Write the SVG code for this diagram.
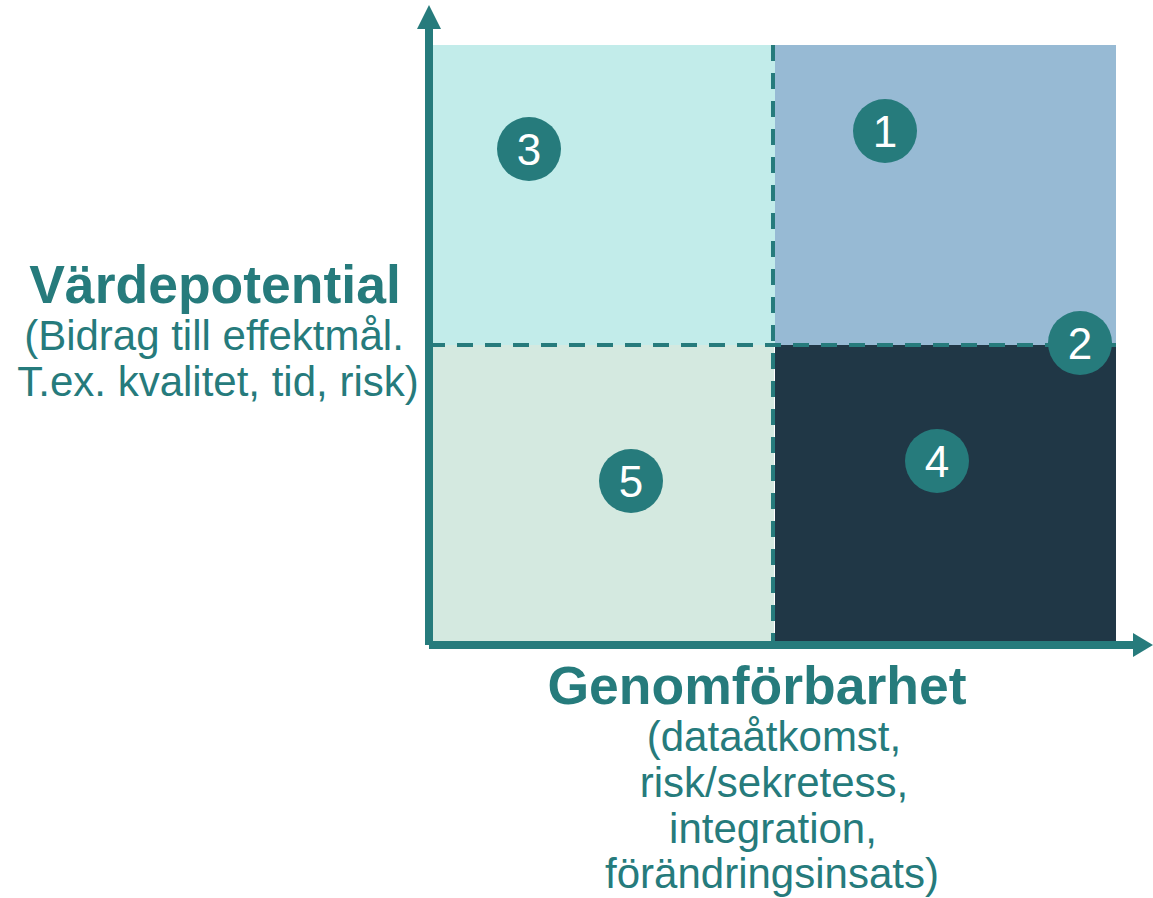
<svg xmlns="http://www.w3.org/2000/svg" width="1153" height="898" viewBox="0 0 1153 898">
<style>
.teal{fill:#267B7C}
.title{font-family:"Liberation Sans",Arial,sans-serif;font-weight:bold;font-size:53.5px;fill:#267B7C;text-anchor:middle}
.sub{font-family:"Liberation Sans",Arial,sans-serif;font-size:42px;fill:#267B7C;text-anchor:middle}
.num{font-family:"Liberation Sans",Arial,sans-serif;font-size:44px;fill:#FFFFFF;text-anchor:middle}
.dash{stroke:#267B7C;stroke-width:4;stroke-dasharray:16 12;fill:none}
</style>
<rect width="1153" height="898" fill="#FFFFFF"/>
<g id="quadrants">
<rect id="q-upper-left" x="433" y="45" width="342" height="300" fill="#C2ECEA"/>
<rect id="q-upper-right" x="775" y="45" width="341" height="300" fill="#97BAD4"/>
<rect id="q-lower-left" x="433" y="345" width="341" height="296" fill="#D4E9E0"/>
<rect id="q-lower-right" x="775" y="345" width="341" height="296" fill="#203746"/>
</g>
<g id="connectors">
<line class="dash" x1="773" y1="45" x2="773" y2="641"/>
<line class="dash" x1="429" y1="345" x2="1116" y2="345"/>
<rect class="teal" x="425" y="29" width="8" height="616"/>
<polygon class="teal" points="417,29 441,29 429,5"/>
<rect class="teal" x="429" y="641" width="704" height="8"/>
<polygon class="teal" points="1133,633 1133,657 1153,645"/>
</g>
<g id="node-3"><circle class="teal" cx="529" cy="149" r="32"/><text class="num" x="529" y="165">3</text></g>
<g id="node-1"><circle class="teal" cx="885" cy="131" r="32"/><text class="num" x="885" y="147">1</text></g>
<g id="node-2"><circle class="teal" cx="1080" cy="343" r="32"/><text class="num" x="1080" y="359">2</text></g>
<g id="node-4"><circle class="teal" cx="937" cy="461" r="32"/><text class="num" x="937" y="477">4</text></g>
<g id="node-5"><circle class="teal" cx="631" cy="481" r="32"/><text class="num" x="631" y="497">5</text></g>
<g id="y-label">
<text class="title" x="215" y="303">Värdepotential</text>
<text class="sub" x="214" y="350">(Bidrag till effektmål.</text>
<text class="sub" x="218" y="396">T.ex. kvalitet, tid, risk)</text>
</g>
<g id="x-label">
<text class="title" x="757" y="704">Genomförbarhet</text>
<text class="sub" x="774" y="751">(dataåtkomst,</text>
<text class="sub" x="774" y="797">risk/sekretess,</text>
<text class="sub" x="773" y="843">integration,</text>
<text class="sub" x="772" y="888">förändringsinsats)</text>
</g>
</svg>
